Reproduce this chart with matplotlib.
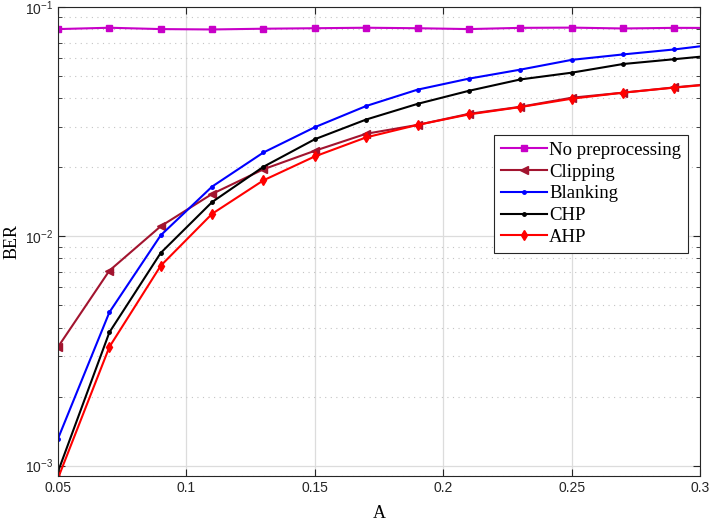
import numpy as np
import matplotlib.pyplot as plt
from matplotlib.ticker import LogLocator, NullFormatter, FixedLocator

# Amplitude du bruit impulsif
A = [0.05, 0.07, 0.09, 0.11, 0.13, 0.15, 0.17, 0.19, 0.21, 0.23, 0.25, 0.27, 0.29, 0.31]

# BER pour chaque méthode
ber_none = [0.0801, 0.0812, 0.0801, 0.0798, 0.0804, 0.0808, 0.0812, 0.0808, 0.0801, 0.0811, 0.0813, 0.0806, 0.0811, 0.0810]
ber_clip = [0.00329, 0.00708, 0.01106, 0.0153, 0.0196, 0.0236, 0.0280, 0.0306, 0.0342, 0.0367, 0.0402, 0.0423, 0.0446, 0.0468]
ber_blank = [0.00131, 0.00466, 0.0101, 0.01647, 0.0232, 0.0299, 0.0370, 0.0436, 0.0487, 0.0533, 0.0588, 0.0621, 0.0653, 0.0695]
ber_chp = [0.00094, 0.00381, 0.00846, 0.0141, 0.0201, 0.0265, 0.0323, 0.0378, 0.0431, 0.0483, 0.0517, 0.0564, 0.0592, 0.0622]
ber_ahp = [0.00088, 0.00329, 0.00744, 0.01253, 0.01754, 0.0223, 0.0270, 0.0306, 0.0340, 0.0366, 0.0398, 0.0423, 0.0445, 0.0466]

labels = ["No preprocessing", "Clipping", "Blanking", "CHP", "AHP"]

fig = plt.figure(figsize=(7.1, 5.26), dpi=100)
ax = fig.add_axes([0.0817, 0.095, 0.9043, 0.8917])

ax.semilogy(A, ber_none, color='#C800C8', marker='s', ms=5, lw=1.5, label=labels[0])
ax.semilogy(A, ber_clip, color='#A2142F', marker='<', ms=5.5, lw=1.5, label=labels[1])
ax.semilogy(A, ber_blank, color='#0000FF', marker='.', ms=5, lw=1.5, label=labels[2])
ax.semilogy(A, ber_chp, color='black', marker='.', ms=5, lw=1.5, label=labels[3])
ax.semilogy(A, ber_ahp, color='#FF0000', marker='d', ms=5, lw=1.5, label=labels[4])

ax.set_xlim(0.05, 0.3)
ax.set_ylim(0.0009, 0.1)
ax.xaxis.set_major_locator(FixedLocator([0.05, 0.1, 0.15, 0.2, 0.25, 0.3]))
ax.set_xticklabels(["0.05", "0.1", "0.15", "0.2", "0.25", "0.3"])
ax.yaxis.set_major_locator(LogLocator(base=10, numticks=10))
ax.yaxis.set_minor_locator(LogLocator(base=10, subs=np.arange(2, 10), numticks=20))
ax.yaxis.set_minor_formatter(NullFormatter())

ax.tick_params(which='both', direction='in', top=True, right=True, labelsize=10,
               labelfontfamily='Liberation Sans', colors='#262626')
ax.tick_params(which='major', length=5)
ax.tick_params(which='minor', length=3)

ax.grid(which='major', color='#DCDCDC', lw=0.9)
ax.grid(which='minor', axis='y', color='#C4C4C4', lw=0.8, linestyle=(0, (1, 4)))
ax.set_axisbelow(True)
for s in ax.spines.values():
    s.set_color('#262626')

ax.set_xlabel("A", family='Liberation Serif', fontsize=13, labelpad=7)
ax.set_ylabel("BER", family='Liberation Serif', fontsize=13, labelpad=3)

leg = ax.legend(loc='upper right', bbox_to_anchor=(0.981, 0.727), prop={'family': 'Liberation Serif', 'size': 13.5},
                fancybox=False, edgecolor='#262626', framealpha=1, handlelength=2.5,
                handletextpad=0.1, borderpad=0.35, labelspacing=0.25, borderaxespad=0)
leg.get_frame().set_linewidth(0.8)

plt.savefig("out.png", dpi=100)
